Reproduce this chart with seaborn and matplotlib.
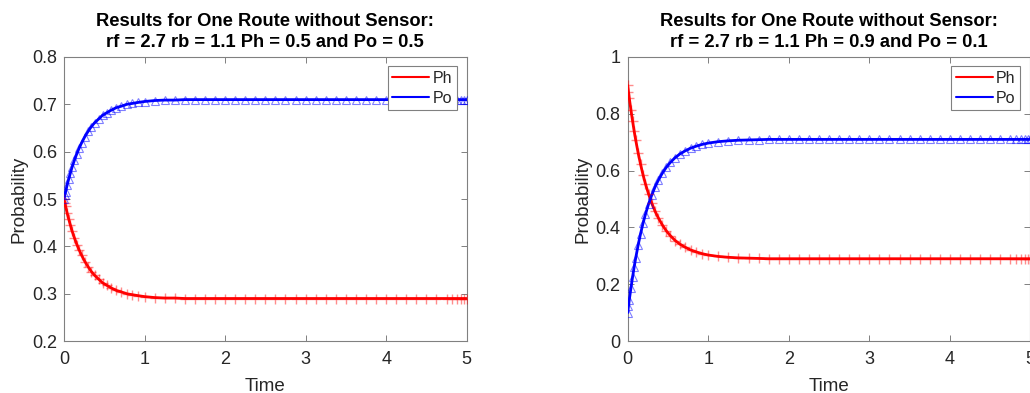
import matplotlib
matplotlib.use("Agg")
import matplotlib.pyplot as plt
import seaborn as sns
import pandas as pd
from matplotlib.lines import Line2D

# ---- data ----
time = [0, 0.01, 0.02, 0.04, 0.06, 0.08, 0.10, 0.13, 0.16, 0.19, 0.22, 0.26, 0.30, 0.34,
        0.38, 0.43, 0.48, 0.53, 0.59, 0.65, 0.71, 0.78, 0.85, 0.92, 1.00,
        1.125, 1.25, 1.375, 1.5, 1.625, 1.75, 1.875, 2.0, 2.125, 2.25, 2.375, 2.5,
        2.625, 2.75, 2.875, 3.0, 3.125, 3.25, 3.375, 3.5, 3.625, 3.75, 3.875, 4.0,
        4.125, 4.25, 4.375, 4.5, 4.625, 4.75, 4.82, 4.88, 4.93, 4.97, 5.0]

ph_left = [0.500, 0.492, 0.485, 0.470, 0.457, 0.445, 0.433, 0.418, 0.404, 0.392, 0.381,
           0.368, 0.357, 0.347, 0.339, 0.331, 0.323, 0.318, 0.312, 0.307, 0.304, 0.300,
           0.298, 0.296, 0.294,
           0.292, 0.291, 0.291, 0.290, 0.290, 0.290, 0.290, 0.290, 0.290, 0.290, 0.290,
           0.290, 0.290, 0.290, 0.290, 0.290, 0.290, 0.290, 0.290, 0.290, 0.290, 0.290,
           0.290, 0.290, 0.290, 0.290, 0.290, 0.290, 0.290, 0.290, 0.290, 0.290, 0.290,
           0.290, 0.290]
po_left = [0.500, 0.508, 0.515, 0.530, 0.543, 0.555, 0.567, 0.582, 0.596, 0.608, 0.619,
           0.632, 0.643, 0.653, 0.661, 0.669, 0.677, 0.682, 0.688, 0.693, 0.696, 0.700,
           0.702, 0.704, 0.706,
           0.708, 0.709, 0.709, 0.710, 0.710, 0.710, 0.710, 0.710, 0.710, 0.710, 0.710,
           0.710, 0.710, 0.710, 0.710, 0.710, 0.710, 0.710, 0.710, 0.710, 0.710, 0.710,
           0.710, 0.710, 0.710, 0.710, 0.710, 0.710, 0.710, 0.710, 0.710, 0.710, 0.710,
           0.710, 0.710]
ph_right = [0.900, 0.877, 0.855, 0.814, 0.776, 0.740, 0.707, 0.662, 0.622, 0.586, 0.554,
            0.517, 0.485, 0.457, 0.434, 0.409, 0.388, 0.371, 0.354, 0.341, 0.331, 0.321,
            0.314, 0.308, 0.303,
            0.298, 0.295, 0.293, 0.292, 0.291, 0.290, 0.290, 0.290, 0.290, 0.290, 0.290,
            0.290, 0.290, 0.290, 0.290, 0.290, 0.290, 0.290, 0.290, 0.290, 0.290, 0.290,
            0.290, 0.290, 0.290, 0.290, 0.290, 0.290, 0.290, 0.290, 0.290, 0.290, 0.290,
            0.290, 0.290]
po_right = [0.100, 0.123, 0.145, 0.186, 0.224, 0.260, 0.293, 0.338, 0.378, 0.414, 0.446,
            0.483, 0.515, 0.543, 0.566, 0.591, 0.612, 0.629, 0.646, 0.659, 0.669, 0.679,
            0.686, 0.692, 0.697,
            0.702, 0.705, 0.707, 0.708, 0.709, 0.710, 0.710, 0.710, 0.710, 0.710, 0.710,
            0.710, 0.710, 0.710, 0.710, 0.710, 0.710, 0.710, 0.710, 0.710, 0.710, 0.710,
            0.710, 0.710, 0.710, 0.710, 0.710, 0.710, 0.710, 0.710, 0.710, 0.710, 0.710,
            0.710, 0.710]

titles = ["Results for One Route without Sensor:\nrf = 2.7 rb = 1.1 Ph = 0.5 and Po = 0.5",
          "Results for One Route without Sensor:\nrf = 2.7 rb = 1.1 Ph = 0.9 and Po = 0.1"]
yticks_left = [0.2, 0.3, 0.4, 0.5, 0.6, 0.7, 0.8]
yticks_right = [0, 0.2, 0.4, 0.6, 0.8, 1]
xticks = [0, 1, 2, 3, 4, 5]

sns.set_style("white")
plt.rcParams['font.family'] = ['Liberation Sans', 'DejaVu Sans']

fig = plt.figure(figsize=(10.30, 3.93), dpi=100)
ax1 = fig.add_axes([0.0621, 0.132, 0.391, 0.723])
ax2 = fig.add_axes([0.6094, 0.132, 0.391, 0.723])

panels = [
    (ax1, ph_left, po_left, titles[0], (0.2, 0.8), yticks_left, ["0.2", "0.3", "0.4", "0.5", "0.6", "0.7", "0.8"]),
    (ax2, ph_right, po_right, titles[1], (0, 1), yticks_right, ["0", "0.2", "0.4", "0.6", "0.8", "1"]),
]

RED = (1, 0, 0)
BLUE = (0, 0, 1)

for ax, ph, po, title, ylim, yt, ytl in panels:
    df = pd.DataFrame({"Time": time, "Ph": ph, "Po": po})
    sns.lineplot(data=df, x="Time", y="Ph", ax=ax, color=RED, linewidth=2.0,
                 estimator=None, sort=False, zorder=3)
    sns.lineplot(data=df, x="Time", y="Po", ax=ax, color=BLUE, linewidth=2.0,
                 estimator=None, sort=False, zorder=3)
    sns.lineplot(data=df, x="Time", y="Ph", ax=ax, color=RED, linestyle="none",
                 marker="+", markersize=6.5, markeredgecolor=RED, markeredgewidth=1.0,
                 alpha=0.45, estimator=None, sort=False, zorder=4)
    sns.lineplot(data=df, x="Time", y="Po", ax=ax, color=BLUE, linestyle="none",
                 marker="^", markersize=5.5, markerfacecolor="none", markeredgecolor=BLUE,
                 markeredgewidth=0.8, alpha=0.5, estimator=None, sort=False, zorder=4)
    ax.set_xlim(0, 5)
    ax.set_ylim(*ylim)
    ax.set_xticks(xticks)
    ax.set_xticklabels([str(v) for v in xticks])
    ax.set_yticks(yt)
    ax.set_yticklabels(ytl)
    ax.set_xlabel("Time", fontsize=13.5, color="#262626", labelpad=7)
    ax.set_ylabel("Probability", fontsize=13.5, color="#262626", labelpad=3)
    ax.set_title(title, fontsize=13.2, fontweight="bold", color="black", pad=7,
                 linespacing=1.3)
    for s in ax.spines.values():
        s.set_visible(True)
        s.set_color("#808080")
        s.set_linewidth(0.8)
    ax.tick_params(direction="in", length=4, width=0.7, colors="#808080",
                   labelcolor="#262626", labelsize=13, top=True, right=True,
                   bottom=True, left=True, pad=5)
    ax.tick_params(axis="x", pad=7)
    handles = [Line2D([], [], color=RED, linewidth=1.5),
               Line2D([], [], color=BLUE, linewidth=1.5)]
    leg = ax.legend(handles, ["Ph", "Po"], loc="upper right", fontsize=11.5,
                    frameon=True, fancybox=False, framealpha=1, edgecolor="#808080",
                    handlelength=2.3, handletextpad=0.2, borderpad=0.3,
                    labelspacing=0.3, borderaxespad=0.0,
                    bbox_to_anchor=(1 - 10 / 403, 1 - 9 / 284))
    leg.get_frame().set_linewidth(0.8)

fig.savefig("out.png", dpi=100)
